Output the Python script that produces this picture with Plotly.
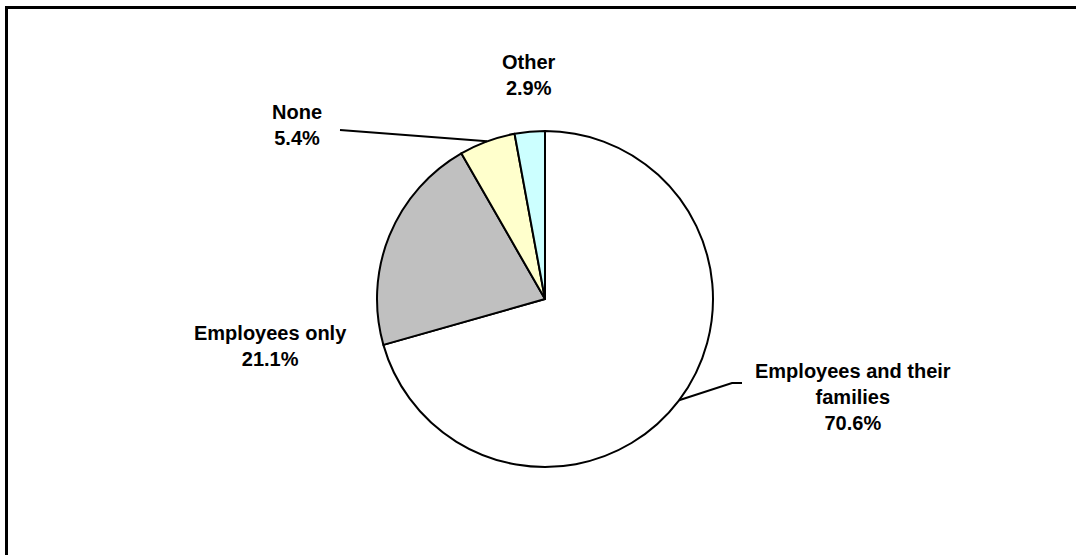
import math
import plotly.graph_objects as go

# Health coverage offered by employers
categories = ["Employees and their families", "Employees only", "None", "Other"]
shares = [70.6, 21.1, 5.4, 2.9]
slice_colors = ["#FFFFFF", "#C0C0C0", "#FFFFCC", "#CCFFFF"]
label_lines = [
    ["Employees and their", "families"],
    ["Employees only"],
    ["None"],
    ["Other"],
]

W, H = 1076, 555
CX, CY, R = 545, 299, 168  # pie centre and radius in pixels


def px(x):
    return x / W


def py(y):
    return 1 - y / H


fig = go.Figure(
    go.Pie(
        labels=categories,
        values=shares,
        sort=False,
        direction="clockwise",
        rotation=0,
        marker=dict(colors=slice_colors, line=dict(color="black", width=2)),
        textinfo="none",
        hoverinfo="label+percent",
        showlegend=False,
        domain=dict(x=[px(CX - R), px(CX + R)], y=[py(CY + R), py(CY - R)]),
    )
)


def edge_point(idx):
    """Point on the rim at the middle of slice idx (clockwise from 12 o'clock)."""
    total = sum(shares)
    start = sum(shares[:idx]) / total
    mid = (start + shares[idx] / total / 2) * 2 * math.pi
    return CX + R * math.sin(mid), CY - R * math.cos(mid)


# label placement (pixel centre of text block) and leader line bends
label_pos = {
    0: (853, 397),
    1: (270, 346),
    2: (297, 125),
    3: (529, 75),
}
leaders = {
    0: [(742, 383), (732, 383)],
    2: [(340, 130)],
}

font = dict(family="Liberation Sans, Arial, sans-serif", size=20, color="black")
for i, name_lines in enumerate(label_lines):
    text = "<b>" + "<br>".join(name_lines + [f"{shares[i]:.1f}%"]) + "</b>"
    x, y = label_pos[i]
    fig.add_annotation(
        x=px(x), y=py(y), xref="paper", yref="paper",
        text=text, showarrow=False, align="center",
        xanchor="center", yanchor="middle", font=font,
    )

for i, pts in leaders.items():
    ex, ey = edge_point(i)
    path_pts = pts + [(ex, ey)]
    path = "M " + " L ".join(f"{px(a)},{py(b)}" for a, b in path_pts)
    fig.add_shape(type="path", path=path, xref="paper", yref="paper",
                  line=dict(color="black", width=2))

# chart frame: left and top edges (the rest lies outside the view)
frame = f"M {px(6.5)},-0.1 L {px(6.5)},{py(7.5)} L 1.1,{py(7.5)}"
fig.add_shape(type="path", path=frame, xref="paper", yref="paper",
              line=dict(color="black", width=3))

fig.update_layout(
    width=W, height=H,
    margin=dict(l=0, r=0, t=0, b=0),
    paper_bgcolor="white",
    plot_bgcolor="white",
)

fig.write_html("out.html")
